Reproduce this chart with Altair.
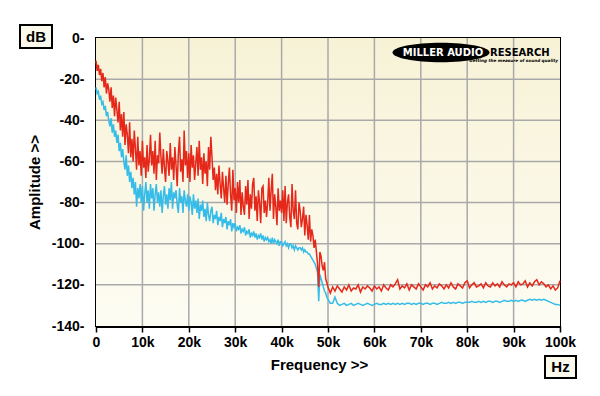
import altair as alt
import pandas as pd

# Frequency bins in kHz: 0.25 kHz spacing below 50 kHz, 0.5 kHz above
freq_khz = [i * 0.25 for i in range(200)] + [50 + i * 0.5 for i in range(101)]

# Red trace (dB)
red_db = [
    -11, -16, -13, -18, -15, -21, -17, -24,
    -19, -27, -22, -25, -31, -24, -34, -28,
    -38, -29, -35, -41, -31, -45, -37, -48,
    -36, -52, -42, -47, -56, -41, -58, -49,
    -60, -45, -54, -64, -48, -62, -55, -67,
    -50, -63, -58, -68, -52, -65, -59, -47,
    -62, -55, -66, -50, -69, -57, -61, -46,
    -58, -66, -54, -63, -70, -55, -60, -67,
    -51, -64, -58, -69, -53, -62, -72, -56,
    -48, -65, -59, -70, -45, -62, -55, -68,
    -56, -70, -52, -63, -57, -69, -61, -53,
    -67, -50, -64, -58, -71, -56, -66, -60,
    -72, -53, -64, -48, -58, -69, -63, -74,
    -66, -76, -62, -71, -78, -65, -73, -80,
    -67, -81, -71, -63, -76, -84, -64, -79,
    -73, -85, -70, -80, -69, -86, -75, -82,
    -86, -72, -81, -69, -88, -76, -83, -71,
    -68, -84, -77, -89, -74, -80, -90, -73,
    -72, -85, -79, -87, -80, -68, -84, -74,
    -66, -88, -76, -82, -91, -73, -84, -79,
    -85, -74, -89, -72, -90, -80, -76, -87,
    -92, -71, -84, -88, -74, -90, -93, -80,
    -84, -92, -88, -82, -96, -86, -91, -98,
    -86, -99, -93, -96, -102, -98, -104, -110,
    -121, -104, -106, -111, -113, -109, -117, -119,
    -121,
    -124, -121, -123, -120.5, -122, -123.5, -121, -122.5, -120, -123,
    -121.5, -122, -120, -123.5, -121, -122, -120.5, -121.5, -123, -120.5,
    -122, -121, -123, -120, -121.5, -122.5, -120, -121, -119.5, -117.5,
    -122, -120.5, -121.5, -119.5, -122.5, -120, -121, -122, -119.5, -121,
    -122.5, -120, -121, -119, -122, -120.5, -121.5, -119.5, -120.5, -122,
    -120, -121.5, -119, -121, -122, -119.5, -120.5, -121.5, -119, -118,
    -121.5, -120, -119, -121, -120.5, -119.5, -121.5, -119, -120.5, -121,
    -119, -120.5, -119.5, -121, -118.5, -120, -121, -119.5, -120, -119,
    -121, -118.5, -120, -119.5, -118, -121, -119, -120.5, -118.5, -117.5,
    -120, -118.5, -119.5, -121, -120, -122, -120.5, -122.5, -121.5, -118,
]

# Blue trace (dB)
blue_db = [
    -24, -27, -26, -30, -28, -32, -31, -35,
    -33, -38, -36, -40, -43, -39, -46, -42,
    -48, -45, -51, -47, -55, -51, -58, -54,
    -60, -64, -57, -67, -62, -70, -65, -73,
    -68, -76, -70, -82, -73, -78, -71, -80,
    -72, -84, -76, -70, -80, -74, -83, -71,
    -78, -73, -84, -76, -71, -80, -75, -82,
    -74, -85, -77, -72, -81, -76, -83, -73,
    -79, -70, -83, -75, -78, -74, -81, -85,
    -73, -80, -77, -85, -74, -79, -82, -76,
    -84, -77, -80, -86, -76, -83, -79, -85,
    -78, -88, -81, -84, -79, -87, -83, -89,
    -80, -86, -89, -84, -82, -90, -86, -88,
    -84, -91, -87, -89, -85, -92, -88, -90,
    -87, -93, -89, -91, -88, -94, -90, -92,
    -90, -94, -92, -93, -91, -95, -93, -94,
    -92, -96, -94, -95, -93, -97, -95, -96,
    -94, -97, -95, -98, -96, -97, -95, -98,
    -96, -99, -97, -98, -97, -99, -98, -100,
    -97, -100, -98, -99, -100, -98, -101, -99,
    -99, -101, -100, -99, -101, -100, -102, -100,
    -100, -102, -101, -103, -101, -102, -103, -102,
    -102, -103, -102, -104, -103, -104, -104, -105,
    -105, -106, -107, -108, -109, -110, -112, -114,
    -128, -115, -117, -119, -121, -123, -124, -126,
    -127,
    -129, -129, -126, -129, -130, -129.5, -129, -130, -129.5, -129,
    -130, -129.5, -129, -129.5, -130, -129.5, -129, -129.5, -130, -129.5,
    -129, -129.5, -129.5, -129, -129.5, -129, -129.5, -129, -129.5, -129,
    -129.5, -129, -129.5, -129, -129, -129.5, -129, -129.5, -129, -129,
    -129.5, -129, -129, -129.5, -129, -129, -129.5, -129, -128.5, -129,
    -129, -128.5, -129, -128.5, -129, -128.5, -128.5, -129, -128.5, -128.5,
    -128.5, -128, -128.5, -128.5, -128, -128.5, -128, -128.5, -128, -128,
    -128.5, -128, -128, -128.5, -128, -127.5, -128, -128, -127.5, -128,
    -127.5, -128, -127.5, -127.5, -128, -127.5, -127, -127.5, -127, -127.5,
    -127, -127.5, -127, -127.5, -128, -128.5, -129, -129.5, -129.5, -130,
]

x_ticks = [0, 10, 20, 30, 40, 50, 60, 70, 80, 90, 100]
y_ticks = [0, -20, -40, -60, -80, -100, -120, -140]

W, H = 464, 288
FONT = "Liberation Sans"

df_red = pd.DataFrame({"freq": freq_khz, "db": red_db})
df_blue = pd.DataFrame({"freq": freq_khz, "db": blue_db})
one = pd.DataFrame({"a": [0]})

xscale = alt.Scale(domain=[0, 100], nice=False, zero=False)
yscale = alt.Scale(domain=[-140, 0], nice=False, zero=False)

x_axis = alt.Axis(
    values=x_ticks, grid=False,
    labelExpr="datum.value == 0 ? '0' : toString(datum.value) + 'k'",
    labelFont=FONT, labelFontSize=14, labelFontWeight="bold", labelColor="black",
    labelPadding=3, labelFlush=False, labelOverlap=False,
    tickColor="black", tickSize=6, tickWidth=1.5,
    domainColor="black", domainWidth=3,
    title="Frequency >>", titleFont=FONT, titleFontSize=15, titleFontWeight="bold",
    titleColor="black", titlePadding=8, titleX=223,
)
y_axis = alt.Axis(
    values=y_ticks, grid=False,
    labelExpr="toString(datum.value) + '-'",
    labelFont=FONT, labelFontSize=14, labelFontWeight="bold", labelColor="black",
    labelPadding=12, labelFlush=False, labelOverlap=False,
    ticks=False, domainColor="black", domainWidth=3,
    title="Amplitude >>", titleFont=FONT, titleFontSize=15, titleFontWeight="bold",
    titleColor="black", titlePadding=9,
)

bg = alt.Chart(one).mark_rect(
    color={"gradient": "linear", "x1": 0, "x2": 0, "y1": 0, "y2": 1,
           "stops": [{"offset": 0, "color": "#f7f2d6"},
                     {"offset": 1, "color": "#fdfcf3"}]}
).encode(x=alt.value(0), x2=alt.value(W), y=alt.value(0), y2=alt.value(H))

vgrid = alt.Chart(pd.DataFrame({"freq": x_ticks[1:-1]})).mark_rule(
    color="#a9a9a9", strokeWidth=1.5
).encode(x=alt.X("freq:Q", scale=xscale, axis=x_axis))

hgrid = alt.Chart(pd.DataFrame({"db": y_ticks[1:-1]})).mark_rule(
    color="#a9a9a9", strokeWidth=1.5
).encode(y=alt.Y("db:Q", scale=yscale, axis=y_axis))

blue = alt.Chart(df_blue).mark_line(color="#35bce8", strokeWidth=1.5).encode(
    x=alt.X("freq:Q", scale=xscale, axis=x_axis),
    y=alt.Y("db:Q", scale=yscale, axis=y_axis),
)
red = alt.Chart(df_red).mark_line(color="#e5281a", strokeWidth=1.5).encode(
    x=alt.X("freq:Q", scale=xscale, axis=x_axis),
    y=alt.Y("db:Q", scale=yscale, axis=y_axis),
)

ellipse_path = "M-1,0A1,0.2,0,1,1,1,0A1,0.2,0,1,1,-1,0Z"
logo_oval = alt.Chart(one).mark_point(
    shape=ellipse_path, size=9409, filled=True, color="black", opacity=1
).encode(x=alt.value(345), y=alt.value(14.5))
logo_t1 = alt.Chart(one).mark_text(
    text="MILLER AUDIO", font="DejaVu Sans", fontWeight="bold", fontSize=10,
    color="white", align="center", baseline="middle"
).encode(x=alt.value(347), y=alt.value(14.5))
logo_t2 = alt.Chart(one).mark_text(
    text="RESEARCH", font="DejaVu Sans", fontWeight="bold", fontSize=10,
    color="black", align="left", baseline="middle"
).encode(x=alt.value(394), y=alt.value(14.5))
logo_t3 = alt.Chart(one).mark_text(
    text="Getting the measure of sound quality", font="DejaVu Sans",
    fontWeight="bold", fontStyle="italic", fontSize=4.2, color="black",
    align="right", baseline="middle"
).encode(x=alt.value(462), y=alt.value(22.5))

db_box = alt.Chart(one).mark_rect(fill="#fbf9ec", stroke="black", strokeWidth=2).encode(
    x=alt.value(-76), x2=alt.value(-44), y=alt.value(-13), y2=alt.value(10))
db_txt = alt.Chart(one).mark_text(
    text="dB", font=FONT, fontWeight="bold", fontSize=15, color="black",
    align="center", baseline="middle").encode(x=alt.value(-60), y=alt.value(-1.5))
hz_box = alt.Chart(one).mark_rect(fill="#fbf9ec", stroke="black", strokeWidth=2).encode(
    x=alt.value(449), x2=alt.value(480), y=alt.value(318), y2=alt.value(340))
hz_txt = alt.Chart(one).mark_text(
    text="Hz", font=FONT, fontWeight="bold", fontSize=15, color="black",
    align="center", baseline="middle").encode(x=alt.value(464.5), y=alt.value(329))

chart = alt.layer(
    bg, vgrid, hgrid, blue, red, logo_oval, logo_t1, logo_t2, logo_t3,
    db_box, db_txt, hz_box, hz_txt
).properties(
    width=W, height=H,
    autosize=alt.AutoSizeParams(type="none"),
    padding={"left": 88, "top": 30, "right": 30, "bottom": 58},
    background="white",
).configure_view(stroke="black", strokeWidth=2)

chart.save("out.html", embed_options={"renderer": "svg", "actions": False})
